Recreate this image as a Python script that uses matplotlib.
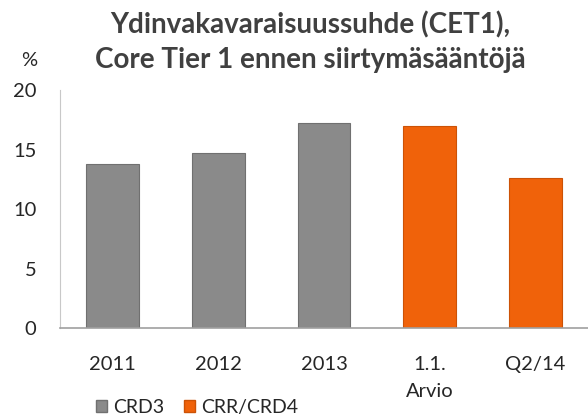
import matplotlib
matplotlib.use("Agg")
import matplotlib.pyplot as plt
from matplotlib.patches import Patch

categories = ["2011", "2012", "2013", "1.1.\nArvio", "Q2/14"]
crd3_values = [13.8, 14.7, 17.2, None, None]
crr_values = [None, None, None, 17.0, 12.6]
y_ticks = [0, 5, 10, 15, 20]
title = "Ydinvakavaraisuussuhde (CET1),\nCore Tier 1 ennen siirtymäsääntöjä"
legend_labels = ["CRD3", "CRR/CRD4"]

plt.rcParams['font.family'] = ['Lato', 'DejaVu Sans']
GRAY = "#8a8a8a"
ORANGE = "#f0620a"
TEXT = "#262626"
FS = 14.5

fig = plt.figure(figsize=(5.88, 4.19), dpi=100)
ax = fig.add_axes([0.102, 0.217, 0.898, 0.568])

x = list(range(len(categories)))
xs1 = [i for i, v in zip(x, crd3_values) if v is not None]
ys1 = [v for v in crd3_values if v is not None]
xs2 = [i for i, v in zip(x, crr_values) if v is not None]
ys2 = [v for v in crr_values if v is not None]
ax.bar(xs1, ys1, width=0.5, color=GRAY, edgecolor="#707070", linewidth=0.8)
ax.bar(xs2, ys2, width=0.5, color=ORANGE, edgecolor="#cc5206", linewidth=0.8)

ax.set_xlim(-0.5, len(categories) - 0.5)
ax.set_ylim(0, 20)
ax.set_yticks(y_ticks)
ax.set_xticks(x)
ax.set_xticklabels(categories, fontsize=FS, color=TEXT, linespacing=1.7, va="top")
ax.tick_params(axis="y", labelsize=FS, labelcolor=TEXT, length=0, pad=17)
ax.tick_params(axis="x", length=0, pad=20)
for lab in ax.get_yticklabels():
    lab.set_horizontalalignment("right")

for s in ["top", "right"]:
    ax.spines[s].set_visible(False)
ax.spines["left"].set_color("#c8c8c8")
ax.spines["bottom"].set_color("#a0a0a0")
ax.spines["bottom"].set_linewidth(1.2)

fig.text(0.527, 0.9, title, ha="center", va="center", fontsize=20,
         fontweight="bold", color="#404040", linespacing=1.42)
fig.text(0.05, 0.855, "%", ha="center", va="center", fontsize=FS, color=TEXT)

handles = [Patch(facecolor=GRAY, edgecolor="#707070"),
           Patch(facecolor=ORANGE, edgecolor="#cc5206")]
fig.legend(handles, legend_labels, loc="center left", bbox_to_anchor=(0.146, 0.028),
           ncol=2, frameon=False, fontsize=14, handlelength=0.6, handleheight=0.6,
           handletextpad=0.3, columnspacing=1.0, labelcolor=TEXT, borderpad=0)

fig.savefig("out.png", dpi=100)
